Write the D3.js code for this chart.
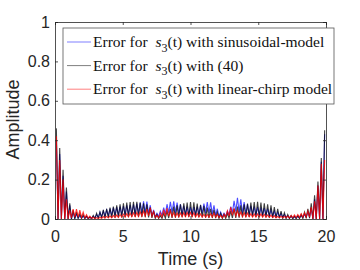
<!DOCTYPE html>
<html>
<head>
<meta charset="utf-8">
<script src="https://cdn.jsdelivr.net/npm/d3@7"></script>
<style>
  body { margin: 0; background: #fff; }
  svg { display: block; }
</style>
</head>
<body>
<svg width="360" height="270"></svg>
<script>
// peaks sampled every `step` seconds from t0, troughs sit half a step later
var t0 = 0.1, step = 0.2475;
var xTicks = [0, 5, 10, 15, 20];
var yTicks = [0, 0.2, 0.4, 0.6, 0.8, 1];
var seriesNames = ["sinusoidal-model", "(40)", "linear-chirp model"];

var bluePeaks = [
  0.40, 0.33, 0.22, 0.14, 0.07, 0.035, 0.023, 0.017,
  0.014, 0.012, 0.009, 0.014, 0.023, 0.035, 0.04, 0.046,
  0.052, 0.058, 0.06, 0.063, 0.066, 0.069, 0.071, 0.075,
  0.078, 0.083, 0.09, 0.088, 0.07, 0.046, 0.029, 0.04,
  0.058, 0.075, 0.087, 0.09, 0.083, 0.075, 0.067, 0.063,
  0.06, 0.06, 0.063, 0.069, 0.078, 0.086, 0.084, 0.069,
  0.052, 0.035, 0.029, 0.04, 0.063, 0.092, 0.108, 0.10,
  0.086, 0.075, 0.067, 0.063, 0.06, 0.058, 0.055, 0.052,
  0.046, 0.04, 0.035, 0.029, 0.023, 0.017, 0.014, 0.012,
  0.014, 0.017, 0.023, 0.035, 0.055, 0.10, 0.17, 0.29,
  0.43
];
var blueTroughs = [
  0.0, 0.0, 0.0, 0.0, 0.0, 0.005, 0.005, 0.005,
  0.004, 0.003, 0.003, 0.005, 0.008, 0.012, 0.015, 0.017,
  0.018, 0.02, 0.02, 0.022, 0.022, 0.024, 0.025, 0.026,
  0.028, 0.03, 0.03, 0.025, 0.015, 0.01, 0.012, 0.018,
  0.025, 0.03, 0.032, 0.03, 0.027, 0.024, 0.022, 0.021,
  0.021, 0.022, 0.025, 0.028, 0.03, 0.03, 0.025, 0.018,
  0.012, 0.01, 0.014, 0.022, 0.032, 0.038, 0.035, 0.03,
  0.026, 0.023, 0.022, 0.02, 0.02, 0.019, 0.018, 0.016,
  0.014, 0.012, 0.01, 0.008, 0.006, 0.005, 0.004, 0.005,
  0.006, 0.008, 0.01, 0.012, 0.0, 0.0, 0.0, 0.0
];

var blackPeaks = [
  0.46, 0.36, 0.25, 0.16, 0.08, 0.045, 0.035, 0.028,
  0.022, 0.014, 0.01, 0.018, 0.029, 0.035, 0.046, 0.052,
  0.058, 0.063, 0.069, 0.075, 0.08, 0.083, 0.086, 0.087,
  0.087, 0.084, 0.08, 0.075, 0.058, 0.04, 0.023, 0.017,
  0.029, 0.04, 0.052, 0.063, 0.069, 0.075, 0.08, 0.083,
  0.086, 0.085, 0.078, 0.072, 0.067, 0.058, 0.052, 0.046,
  0.035, 0.029, 0.023, 0.029, 0.04, 0.052, 0.063, 0.069,
  0.075, 0.078, 0.083, 0.086, 0.087, 0.084, 0.08, 0.075,
  0.069, 0.06, 0.052, 0.04, 0.032, 0.023, 0.017, 0.014,
  0.017, 0.023, 0.035, 0.052, 0.08, 0.12, 0.19, 0.31,
  0.45
];
var blackTroughs = [
  0.0, 0.0, 0.0, 0.0, 0.0, 0.0, 0.002, 0.002,
  0.002, 0.001, 0.001, 0.002, 0.003, 0.004, 0.005, 0.006,
  0.006, 0.007, 0.008, 0.008, 0.009, 0.009, 0.01, 0.01,
  0.01, 0.01, 0.009, 0.008, 0.006, 0.004, 0.003, 0.003,
  0.004, 0.005, 0.006, 0.007, 0.008, 0.009, 0.01, 0.01,
  0.01, 0.009, 0.009, 0.008, 0.007, 0.006, 0.005, 0.004,
  0.003, 0.003, 0.003, 0.004, 0.005, 0.006, 0.007, 0.008,
  0.009, 0.01, 0.01, 0.01, 0.01, 0.009, 0.008, 0.007,
  0.006, 0.005, 0.004, 0.003, 0.002, 0.002, 0.001, 0.001,
  0.002, 0.002, 0.003, 0.004, 0.0, 0.0, 0.0, 0.0
];

var redPeaks = [
  0.42, 0.30, 0.20, 0.10, 0.045, 0.05, 0.05, 0.045,
  0.035, 0.022, 0.014, 0.009, 0.007, 0.009, 0.012, 0.014,
  0.016, 0.018, 0.02, 0.023, 0.025, 0.027, 0.029, 0.031,
  0.033, 0.036, 0.04, 0.05, 0.058, 0.038, 0.018, 0.03,
  0.048, 0.055, 0.042, 0.033, 0.03, 0.03, 0.032, 0.033,
  0.033, 0.031, 0.028, 0.026, 0.024, 0.024, 0.026, 0.03,
  0.024, 0.018, 0.024, 0.042, 0.06, 0.054, 0.042, 0.035,
  0.032, 0.03, 0.027, 0.026, 0.026, 0.026, 0.024, 0.021,
  0.019, 0.017, 0.014, 0.014, 0.014, 0.015, 0.018, 0.02,
  0.023, 0.027, 0.032, 0.04, 0.06, 0.09, 0.17, 0.28,
  0.30
];
var redTroughs = [
  0.0, 0.0, 0.0, 0.0, 0.005, 0.01, 0.01, 0.008,
  0.006, 0.004, 0.003, 0.002, 0.002, 0.003, 0.004, 0.005,
  0.006, 0.007, 0.008, 0.009, 0.01, 0.011, 0.012, 0.012,
  0.013, 0.014, 0.015, 0.016, 0.014, 0.008, 0.006, 0.01,
  0.014, 0.014, 0.012, 0.011, 0.011, 0.012, 0.012, 0.012,
  0.012, 0.011, 0.01, 0.01, 0.009, 0.009, 0.01, 0.01,
  0.008, 0.006, 0.01, 0.015, 0.018, 0.016, 0.014, 0.012,
  0.011, 0.011, 0.01, 0.01, 0.01, 0.01, 0.009, 0.008,
  0.007, 0.006, 0.006, 0.006, 0.006, 0.006, 0.007, 0.008,
  0.009, 0.01, 0.01, 0.01, 0.0, 0.0, 0.0, 0.0
];

var svg = d3.select("svg"),
    margin = {top: 22, right: 34, bottom: 51, left: 55},
    width = +svg.attr("width") - margin.left - margin.right,
    height = +svg.attr("height") - margin.top - margin.bottom;

var g = svg.append("g")
    .attr("transform", "translate(" + margin.left + "," + margin.top + ")");

var x = d3.scaleLinear().domain([0, 20]).range([0, width]),
    y = d3.scaleLinear().domain([0, 1]).range([height, 0]);

svg.append("defs").append("clipPath").attr("id", "clip")
  .append("rect").attr("width", width).attr("height", height);

// zigzag between peak and trough values
function zigzag(peaks, troughs) {
  var pts = [];
  peaks.forEach(function(p, i) {
    pts.push([t0 + i * step, p]);
    if (i < troughs.length) pts.push([t0 + i * step + step / 2, troughs[i]]);
  });
  return pts;
}

var series = [
  {name: seriesNames[0], color: "#0000ff", pts: zigzag(bluePeaks, blueTroughs), op: 0.7},
  {name: seriesNames[1], color: "#000000", pts: zigzag(blackPeaks, blackTroughs), op: 0.75},
  {name: seriesNames[2], color: "#ff0000", pts: zigzag(redPeaks, redTroughs), op: 0.8}
];

var line = d3.line()
    .x(function(d) { return x(d[0]); })
    .y(function(d) { return y(d[1]); });

g.append("g").attr("clip-path", "url(#clip)")
  .selectAll("path")
  .data(series)
  .enter().append("path")
    .attr("d", function(d) { return line(d.pts); })
    .attr("fill", "none")
    .attr("stroke", function(d) { return d.color; })
    .attr("stroke-opacity", function(d) { return d.op; })
    .attr("stroke-width", 1.1);

// axes, ticks inside, box on
var axisColor = "#262626";
var xAxis = g.append("g")
    .attr("transform", "translate(0," + height + ")")
    .call(d3.axisBottom(x).tickValues(xTicks).tickSize(-3).tickPadding(12));
var yAxis = g.append("g")
    .call(d3.axisLeft(y).tickValues(yTicks).tickSize(-3).tickPadding(5)
      .tickFormat(function(d) { return d === 0 || d === 1 ? d : d.toFixed(1); }));
var xTop = g.append("g")
    .call(d3.axisTop(x).tickValues(xTicks).tickSize(-3).tickFormat(""));
var yRight = g.append("g")
    .attr("transform", "translate(" + width + ",0)")
    .call(d3.axisRight(y).tickValues(yTicks).tickSize(-3).tickFormat(""));

[xAxis, yAxis, xTop, yRight].forEach(function(a) {
  a.select(".domain").attr("stroke", axisColor).attr("stroke-width", 0.8);
  a.selectAll(".tick line").attr("stroke", axisColor).attr("stroke-width", 0.8);
  a.selectAll("text")
    .attr("fill", axisColor)
    .style("font-family", "'Liberation Sans', Arial, sans-serif")
    .style("font-size", "16px");
});

g.append("text")
    .attr("x", width / 2)
    .attr("y", height + 46)
    .attr("text-anchor", "middle")
    .attr("fill", axisColor)
    .style("font-family", "'Liberation Sans', Arial, sans-serif")
    .style("font-size", "18px")
    .text("Time (s)");

g.append("text")
    .attr("transform", "rotate(-90)")
    .attr("x", -height / 2 + 1)
    .attr("y", -36)
    .attr("text-anchor", "middle")
    .attr("fill", axisColor)
    .style("font-family", "'Liberation Sans', Arial, sans-serif")
    .style("font-size", "18px")
    .text("Amplitude");

// legend
var legend = svg.append("g").attr("transform", "translate(63,28)");
legend.append("rect")
    .attr("width", 271).attr("height", 76)
    .attr("fill", "#fff")
    .attr("stroke", "#555").attr("stroke-width", 0.8);

var rows = legend.selectAll(".row")
  .data(series)
  .enter().append("g")
    .attr("class", "row")
    .attr("transform", function(d, i) { return "translate(0," + (14 + i * 23.6) + ")"; });

rows.append("line")
    .attr("x1", 4).attr("x2", 28)
    .attr("stroke", function(d) { return d.color; })
    .attr("stroke-opacity", 0.5)
    .attr("stroke-width", 1);

var label = rows.append("text")
    .attr("x", 30).attr("y", 5)
    .attr("fill", "#111")
    .style("font-family", "'Liberation Serif', 'Times New Roman', serif")
    .style("font-size", "15.5px");
label.append("tspan").text("Error for ");
label.append("tspan").attr("dx", 4).style("font-style", "italic").text("s");
label.append("tspan").attr("dy", 4.5).style("font-size", "12px").text("3");
label.append("tspan").attr("dy", -4.5).text(function(d) { return "(t) with " + d.name; });
</script>
</body>
</html>
